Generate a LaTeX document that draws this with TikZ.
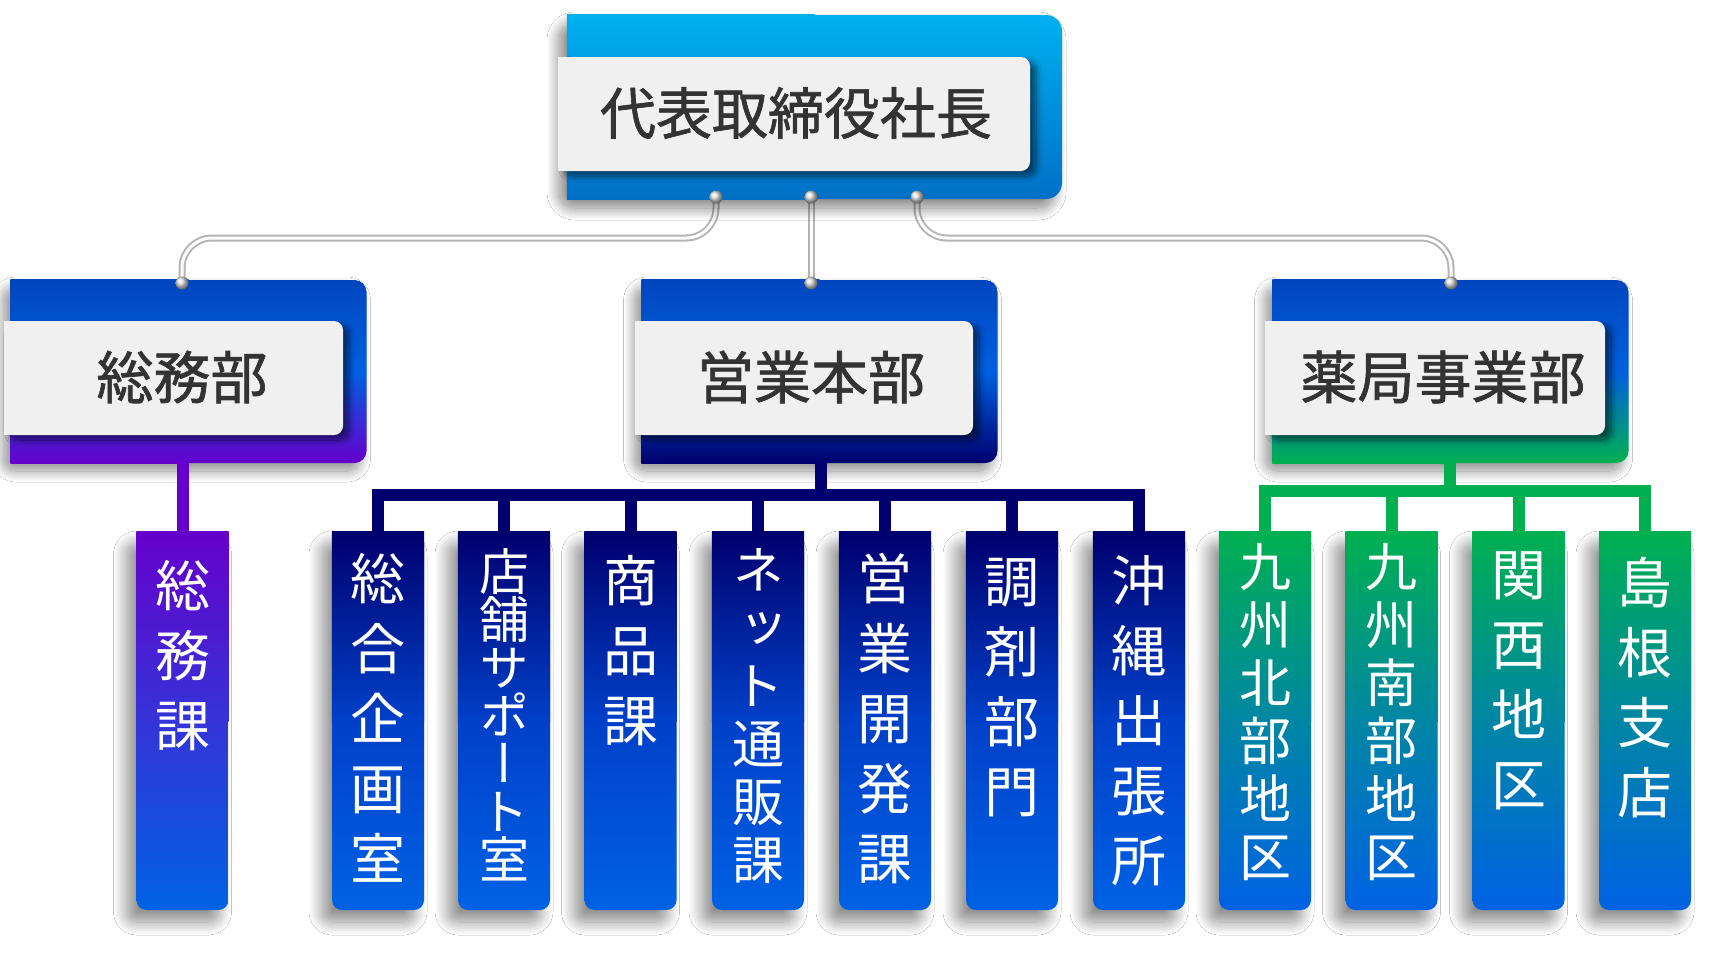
\documentclass[tikz,border=0pt]{standalone}
\usepackage{fontspec}
\newfontfamily\jp{Noto Sans CJK JP}
\newfontfamily\jpb[FakeBold=1.2]{Noto Sans CJK JP}
\newfontfamily\jpv[RawFeature=+vert]{Noto Sans CJK JP}
\usetikzlibrary{shadows.blur}
\definecolor{cyanT}{HTML}{00B0F0}
\definecolor{cyanB}{HTML}{0070C6}
\definecolor{blueT}{HTML}{0046BE}
\definecolor{blueM}{HTML}{0060E0}
\definecolor{blueK}{HTML}{0062E4}
\definecolor{purp}{HTML}{6600CC}
\definecolor{purpM}{HTML}{3434D8}
\definecolor{navy}{HTML}{00006E}
\definecolor{navyM}{HTML}{0040C8}
\definecolor{grn}{HTML}{00B050}
\definecolor{grnM}{HTML}{0086A4}
\definecolor{lab}{HTML}{F0F0F0}
\definecolor{ink}{HTML}{333333}
\definecolor{tubegray}{HTML}{B4B4B4}
\begin{document}
\begin{tikzpicture}[x=1pt,y=-1pt,
  tube/.style={draw=tubegray, line width=7pt, rounded corners=30pt, postaction={draw=white, line width=3pt}},
  dot/.style={circle, minimum size=13pt, inner sep=0pt, ball color=black!12},
  topbox/.style={rectangle, rounded corners=16pt, minimum width=495pt, minimum height=184pt, inner sep=0pt,
     top color=cyanT, bottom color=cyanB,
     blur shadow={shadow xshift=-8pt, shadow yshift=-9pt, shadow blur radius=12pt, shadow blur steps=24, shadow opacity=50}},
  deptbox/.style={rectangle, rounded corners=12pt, minimum width=356pt, minimum height=183pt, inner sep=0pt,
     blur shadow={shadow xshift=-7pt, shadow yshift=-8pt, shadow blur radius=11pt, shadow blur steps=24, shadow opacity=45}},
  plate/.style={rectangle, rounded corners=9pt, fill=lab, inner sep=0pt, minimum height=114pt,
     blur shadow={shadow xshift=6pt, shadow yshift=-5pt, shadow blur radius=6pt, shadow blur steps=16, shadow opacity=55}},
  platetext/.style={font=\jpb\fontsize{57}{60}\selectfont, text=ink, inner sep=0pt},
  kidbox/.style={rectangle, rounded corners=10pt, minimum width=92pt, minimum height=378pt, inner sep=0pt,
     blur shadow={shadow xshift=-10pt, shadow yshift=-12pt, shadow blur radius=13pt, shadow blur steps=24, shadow opacity=45}},
  kidtext/.style={anchor=north, align=center, text=white, inner sep=0pt},
  kfont/.style={font=\jpv\fontsize{55}{70}\selectfont},
  kfontsix/.style={font=\jpv\fontsize{52}{58}\selectfont},
  kfontseven/.style={font=\jpv\fontsize{50}{48}\selectfont},
  bus/.style={line width=12pt}
]
\useasboundingbox (0,0) rectangle (1716,959);
\fill[white] (0,0) rectangle (1716,959);

% ---------- dots (positions) and tubes ----------
\coordinate (hy) at (0,238);
\node[dot] (d1) at (716,197) {};
\node[dot] (d2) at (811,197) {};
\node[dot] (d3) at (917,197) {};
\node[dot] (d4) at (182,283) {};
\node[dot] (d5) at (811,283) {};
\node[dot] (d6) at (1451,283) {};
\draw[tube] (d1.center) -- (d1.center |- hy) -- (d4.center |- hy) -- (d4.center);
\draw[tube] (d2.center) -- (d5.center);
\draw[tube] (d3.center) -- (d3.center |- hy) -- (d6.center |- hy) -- (d6.center);

% ---------- top box ----------
\node[topbox] (ceo) at (814.5,107) {};
\shade[top color=cyanT, bottom color=cyanB] (ceo.north west) rectangle (ceo.south);
\node[plate, minimum width=472pt] (pceo) at (794,114) {};
\fill[lab] (pceo.north west) rectangle (pceo.south);
\node[platetext, font=\jpb\fontsize{56}{60}\selectfont] (tceo) at (796,113) {代表取締役社長};

% ---------- department boxes ----------
\node[deptbox, top color=blueT, bottom color=purp, middle color=blueM] (somu) at (188.5,371.5) {};
\shade[top color=blueT, bottom color=purp, middle color=blueM] (somu.north west) rectangle (somu.south);
\node[deptbox, top color=blueT, bottom color=navy, middle color=blueM] (eig) at (819.5,371.5) {};
\shade[top color=blueT, bottom color=navy, middle color=blueM] (eig.north west) rectangle (eig.south);
\node[deptbox, top color=blueT, bottom color=grn, middle color=blueM] (yak) at (1450.5,371.5) {};
\shade[top color=blueT, bottom color=grn, middle color=blueM] (yak.north west) rectangle (yak.south);

\node[plate, minimum width=339pt] (psomu) at (173.5,378) {};
\fill[lab] (psomu.north west) rectangle (psomu.south);
\node[plate, minimum width=338pt] (peig) at (804,378) {};
\fill[lab] (peig.north west) rectangle (peig.south);
\node[plate, minimum width=340pt] (pyak) at (1435,378) {};
\fill[lab] (pyak.north west) rectangle (pyak.south);

\node[platetext] (tsomu) at (182,377) {総務部};
\node[platetext] (teig) at (811,377) {営業本部};
\node[platetext] (tyak) at (1443,377) {薬局事業部};

% redraw dots on top
\foreach \p in {d1,d2,d3,d4,d5,d6}
  \node[dot] at (\p.center) {};

% ---------- connectors to children ----------
\coordinate (nb) at (821,495);
\coordinate (gb) at (1450,490.5);

\path (182.5,721) coordinate (s1c);
\draw[bus, draw=purp] (somu.south -| s1c) -- (s1c |- 0,532);

\foreach \n/\x in {n1/378,n2/504,n3/630.5,n4/758,n5/885,n6/1012,n7/1139}
  \coordinate (\n c) at (\x,532);
\draw[bus, draw=navy] (eig.south -| nb) -- (nb);
\draw[bus, draw=navy, line cap=rect] (n1c |- nb) -- (n7c |- nb);
\foreach \n in {n1,n2,n3,n4,n5,n6,n7}
  \draw[bus, draw=navy] (\n c |- nb) -- (\n c);

\foreach \n/\x in {g1/1265,g2/1391.5,g3/1518.5,g4/1645}
  \coordinate (\n c) at (\x,532);
\draw[bus, draw=grn] (yak.south -| gb) -- (gb);
\draw[bus, draw=grn, line cap=rect] (g1c |- gb) -- (g4c |- gb);
\foreach \n in {g1,g2,g3,g4}
  \draw[bus, draw=grn] (\n c |- gb) -- (\n c);

% ---------- child boxes ----------
\node[kidbox, top color=purp, bottom color=blueK, middle color=purpM] (s1) at (182.5,721) {};
\shade[top color=purp, bottom color=purpM] (s1.north west) rectangle (s1.east);

\foreach \n/\x in {n1/378,n2/504,n3/630.5,n4/758,n5/885,n6/1012,n7/1139}{
  \node[kidbox, top color=navy, bottom color=blueK, middle color=navyM] (\n) at (\x,721) {};
  \shade[top color=navy, bottom color=navyM] (\n.north west) rectangle (\n.east);
}
\foreach \n/\x in {g1/1265,g2/1391.5,g3/1518.5,g4/1645}{
  \node[kidbox, top color=grn, bottom color=blueK, middle color=grnM] (\n) at (\x,721) {};
  \shade[top color=grn, bottom color=grnM] (\n.north west) rectangle (\n.east);
}

% child texts
\node[kidtext, kfont] (s1t) at ([yshift=-28pt]s1.north) {総\\務\\課};
\node[kidtext, kfont] (n1t) at ([yshift=-21pt]n1.north) {総\\合\\企\\画\\室};
\node[kidtext, kfontseven] (n2t) at ([yshift=-16pt]n2.north) {店\\舗\\サ\\ポ\\ー\\ト\\室};
\node[kidtext, kfont] (n3t) at ([yshift=-23pt]n3.north) {商\\品\\課};
\node[kidtext, kfontsix] (n4t) at ([yshift=-16pt]n4.north) {ネ\\ッ\\ト\\通\\販\\課};
\node[kidtext, kfont] (n5t) at ([yshift=-21pt]n5.north) {営\\業\\開\\発\\課};
\node[kidtext, kfont] (n6t) at ([yshift=-26pt]n6.north) {調\\剤\\部\\門};
\node[kidtext, kfont] (n7t) at ([yshift=-23pt]n7.north) {沖\\縄\\出\\張\\所};
\node[kidtext, kfontsix] (g1t) at ([yshift=-11pt]g1.north) {九\\州\\北\\部\\地\\区};
\node[kidtext, kfontsix] (g2t) at ([yshift=-11pt]g2.north) {九\\州\\南\\部\\地\\区};
\node[kidtext, kfont] (g3t) at ([yshift=-20pt]g3.north) {関\\西\\地\\区};
\node[kidtext, kfont] (g4t) at ([yshift=-25pt]g4.north) {島\\根\\支\\店};
\end{tikzpicture}
\end{document}
